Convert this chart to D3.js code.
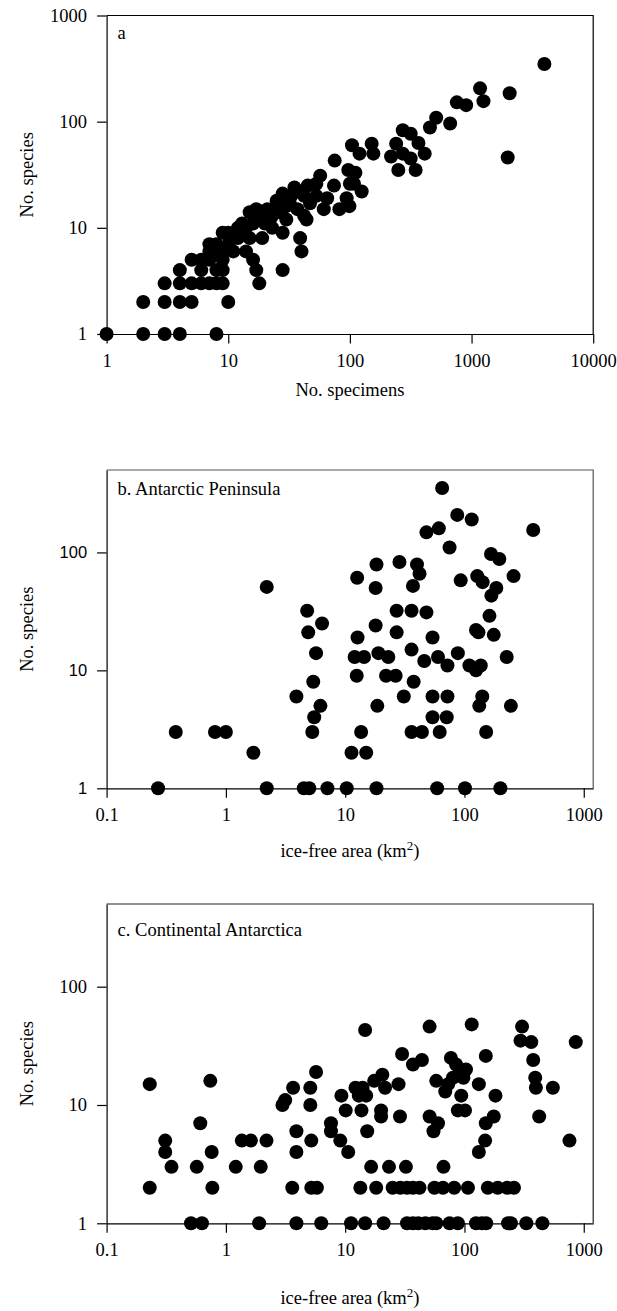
<!DOCTYPE html>
<html>
<head>
<meta charset="utf-8">
<script src="https://cdn.jsdelivr.net/npm/d3@7"></script>
<style>
  body { margin: 0; background: #fff; }
  svg { display: block; }
</style>
</head>
<body>
<svg id="chart" width="617" height="1311"></svg>
<script>
// Panel a: [no. specimens, no. species]
const panelA = [
  [1,1],[2,1],[3,1],[4,1],[8,1],
  [2,2],[3,2],[4,2],[5,2],[10,2],
  [3,3],[4,3],[5,3],[6,3],[7,3],[8,3],[9,3],[18,3],
  [4,4],[6,4],[8,4],[9,4],[17,4],[28,4],
  [5,5],[6,5],[7,5],[9,5],[16,5],
  [7,6],[8,6],[9,6],[11,6],[14,6],[40,6],
  [7,7],[8,7],[10,7],[11,8],[12,8],[15,8],[19,8],[39,8],
  [9,9],[10,9],[13,9],[28,9],
  [12,10],[14,10],[23,10],[13,11],[16,11],[20,11],
  [18,12],[22,12],[30,12],[44,12],[19,13],[23,13],[42,13],
  [15,14],[27,14],[17,15],[21,15],[25,15],[37,15],[61,15],[82,15],[99,16],[30,16],
  [32,17],[47,17],[25,18],[33,20],[94,19],[65,19],[42,20],[53,20],[28,21],[38,22],
  [125,22],[35,24],[45,25],[74,25],[53,26],[100,26],[108,26],[57,31],[111,33],[97,35],[75,43],
  [104,60],[120,50],[151,62],[156,50],
  [218,47],[240,62],[272,83],[316,77],[272,50],[316,45],[250,35],[347,35],[366,63],[412,50],
  [455,88],[512,109],[667,96],[757,152],[903,143],[1175,206],[1253,156],[2057,185],[1982,46],[3970,349]
];

// Panel b: Antarctic Peninsula [ice-free area km2, no. species]
const panelB = [
  [0.27,1],[2.2,1],[4.5,1],[5.0,1],[7.1,1],[10.3,1],[18.3,1],[59,1],[101,1],[200,1],
  [1.7,2],[11.3,2],[15,2],
  [0.38,3],[0.81,3],[1.0,3],[5.3,3],[13.6,3],[36,3],[44,3],[62,3],[152,3],
  [5.5,4],[54,4],[71,4],
  [6.2,5],[18.6,5],[133,5],[245,5],
  [3.9,6],[31,6],[54,6],[72,6],[141,6],
  [5.4,8],[37.5,8],
  [12.5,9],[22,9],[26.5,9],
  [46,12],[72,11],[110,11],[125,10],[137,11],
  [12,13],[14.4,13],[19,14],[23,13],[60,13],[226,13],
  [5.7,14],[36,15],[88,14],
  [12.7,19],[4.9,21],[27,21],[54,19],[125,22],[131,21],[176,20],
  [6.4,25],[18,24],
  [4.8,32],[27,32],[36,32],[48,31],[162,29],
  [168,43],
  [2.2,51],[18,50],[37,52],[185,50],
  [12.6,61],[42,66],[93,58],[128,63],[142,56],[258,63],
  [18.3,79],[28.5,83],[40,79],
  [75,110],[167,97],[196,88],
  [48,148],[61,160],[377,155],
  [87,208],[115,190],
  [65,352]
];

// Panel c: Continental Antarctica [ice-free area km2, no. species]
const panelC = [
  [0.51,1],[0.63,1],[1.9,1],[3.9,1],[6.3,1],[11.2,1],[14.7,1],[21,1],[33,1],[37,1],[41,1],[47,1],
  [54,1],[58,1],[75,1],[88,1],[125,1],[140,1],[152,1],[232,1],[245,1],[330,1],[450,1],
  [0.23,2],[0.77,2],[3.6,2],[5.2,2],[5.8,2],[13.4,2],[18.2,2],[25,2],[29,2],[33,2],[37,2],[42,2],
  [56,2],[66,2],[82,2],[107,2],[157,2],[190,2],[228,2],[260,2],
  [0.35,3],[0.57,3],[1.21,3],[1.96,3],[16.5,3],[23.3,3],[32.3,3],[66.7,3],
  [0.31,4],[0.76,4],[3.9,4],[10.6,4],[132,4],
  [0.31,5],[1.36,5],[1.62,5],[2.19,5],[5.2,5],[9.1,5],[149,5],[759,5],
  [3.9,6],[7.6,6],[15.3,6],[55,6],
  [0.61,7],[7.6,7],[60,7],[151,7],
  [20,8],[28.8,8],[51,8],[176,8],[423,8],
  [10.1,9],[13.7,9],[20,9],[88,9],[101,9],
  [2.98,10],[3.14,11],[5.1,10],
  [9.3,12],[13,12],[15,12],[94,12],[182,12],
  [69,13],
  [3.66,14],[5.1,14],[12.2,14],[14,14],[21.6,14],[397,14],[551,14],
  [0.23,15],[28,15],[73,15],[132,15],
  [0.74,16],[17.5,16],[58,16],
  [80,17],[98,17],[392,17],
  [20.5,18],[5.7,19],[92,19],[103,20],
  [37,22],[85,22],
  [44,24],[30,27],[77,25],[151,26],[377,24],
  [295,35],[363,34],[857,34],
  [14.7,43],[51,46],[115,48],[304,46]
];

const specimenTicks = [1, 10, 100, 1000, 10000];
const speciesTicksA = [1, 10, 100, 1000];
const areaTicks = [0.1, 1, 10, 100, 1000];
const speciesTicksArea = [1, 10, 100];

const SERIF = '"Liberation Serif", "Times New Roman", serif';
const SANS = '"Liberation Sans", Arial, sans-serif';
const FS = 18.5;

const svg = d3.select('#chart');

const panels = [
  { points: panelA, xDomain: [1, 10000], yDomain: [1, 1000],
    xTicks: specimenTicks, yTicks: speciesTicksA,
    left: 106.6, right: 593.2, bottom: 334, top: 15.5,
    frame: '#000', yFont: SERIF, yFontSize: FS,
    label: 'a', labelY: 39, xTitle: 'No. specimens', xSup: null, xTitleY: 396 },
  { points: panelB, xDomain: [0.1, 1200], yDomain: [1, 500],
    xTicks: areaTicks, yTicks: speciesTicksArea,
    left: 106.6, right: 593.2, bottom: 788.3, top: 470,
    frame: '#555', yFont: SANS, yFontSize: 16.5,
    label: 'b. Antarctic Peninsula', labelY: 495, xTitle: 'ice-free area (km', xSup: '2', xTitleY: 857 },
  { points: panelC, xDomain: [0.1, 1200], yDomain: [1, 500],
    xTicks: areaTicks, yTicks: speciesTicksArea,
    left: 106.6, right: 593.2, bottom: 1223.3, top: 904,
    frame: '#222', yFont: SERIF, yFontSize: FS,
    label: 'c. Continental Antarctica', labelY: 936, xTitle: 'ice-free area (km', xSup: '2', xTitleY: 1304 }
];

panels.forEach(p => {
  const g = svg.append('g');
  const x = d3.scaleLog().domain(p.xDomain).range([p.left, p.right]);
  const y = d3.scaleLog().domain(p.yDomain).range([p.bottom, p.top]);

  // top and right frame
  g.append('path')
    .attr('d', `M${p.left},${p.top}H${p.right}V${p.bottom}`)
    .attr('fill', 'none').attr('stroke', p.frame).attr('stroke-width', 1.2);

  const xAxis = g.append('g')
    .attr('transform', `translate(0,${p.bottom})`)
    .call(d3.axisBottom(x).tickValues(p.xTicks).tickFormat(d => String(d))
      .tickSize(9.5).tickPadding(10).tickSizeOuter(0));
  xAxis.attr('font-family', SERIF).attr('font-size', FS);

  const yAxis = g.append('g')
    .attr('transform', `translate(${p.left},0)`)
    .call(d3.axisLeft(y).tickValues(p.yTicks).tickFormat(d => String(d))
      .tickSize(9.5).tickPadding(10).tickSizeOuter(0));
  yAxis.attr('font-family', p.yFont).attr('font-size', p.yFontSize);

  [xAxis, yAxis].forEach(a => {
    a.select('.domain').attr('stroke', '#000').attr('stroke-width', 1.2);
    a.selectAll('.tick line').attr('stroke', '#000').attr('stroke-width', 1.2);
    a.selectAll('.tick text').attr('fill', '#000');
  });

  // points
  g.append('g').selectAll('circle')
    .data(p.points)
    .join('circle')
    .attr('cx', d => x(d[0]))
    .attr('cy', d => y(d[1]))
    .attr('r', 7)
    .attr('fill', '#000');

  // panel label
  g.append('text')
    .attr('x', p.left + 11).attr('y', p.labelY)
    .attr('font-family', SERIF).attr('font-size', FS)
    .text(p.label);

  // axis titles
  const xt = g.append('text')
    .attr('x', (p.left + p.right) / 2).attr('y', p.xTitleY)
    .attr('text-anchor', 'middle')
    .attr('font-family', SERIF).attr('font-size', FS)
    .text(p.xTitle);
  if (p.xSup) {
    xt.append('tspan').attr('dy', -7).attr('font-size', 13).text(p.xSup);
    xt.append('tspan').attr('dy', 7).text(')');
  }

  g.append('text')
    .attr('transform', `translate(27,${(p.top + p.bottom) / 2}) rotate(-90)`)
    .attr('text-anchor', 'middle')
    .attr('dominant-baseline', 'central')
    .attr('font-family', SERIF).attr('font-size', FS)
    .text('No. species');
});
</script>
</body>
</html>
